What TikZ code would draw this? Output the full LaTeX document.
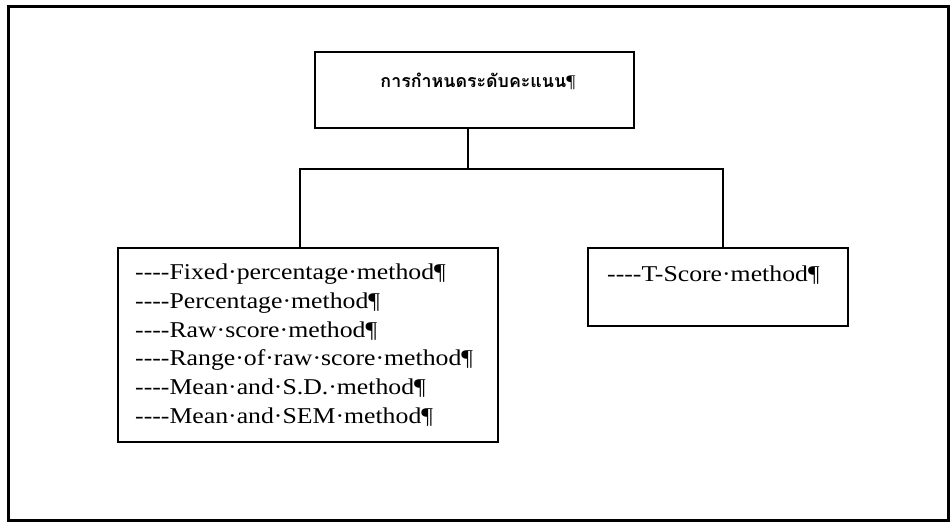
\documentclass[tikz,border=0pt]{standalone}
\usepackage{fontspec}
\setmainfont{Liberation Serif}[FakeStretch=1.14]
\newfontfamily\thaifont[Script=Thai]{Loma}
\newcommand{\fourdash}{-\kern0pt-\kern0pt-\kern0pt-}
\begin{document}
\begin{tikzpicture}[x=1pt,y=-1pt,
  box/.style={draw, line width=2pt, inner sep=0pt},
  conn/.style={line width=2pt},
  item/.style={anchor=base west, inner sep=0pt, font=\fontsize{22.6}{26}\selectfont},
  thaitext/.style={inner sep=0pt, font=\thaifont\bfseries\fontsize{17.8}{24}\selectfont}]
\useasboundingbox (0,0) rectangle (952,523);
\draw[line width=3pt] (8,6) rectangle (948,520);
% boxes
\node[box, minimum width=319pt, minimum height=76pt] (top) at (474.5,90) {};
\node[box, minimum width=380pt, minimum height=194pt] (left) at (308,345) {};
\node[box, minimum width=260pt, minimum height=78pt] (right) at (718,287) {};
% texts
\node[thaitext] (toptext) at (478,81) {การกำหนดระดับคะแนน{\rmfamily\mdseries ¶}};
\node[item] (l1) at (135,279) {\fourdash Fixed·percentage·method¶};
\node[item] (l2) at (135,308) {\fourdash Percentage·method¶};
\node[item] (l3) at (135,337) {\fourdash Raw·score·method¶};
\node[item] (l4) at (135,365) {\fourdash Range·of·raw·score·method¶};
\node[item] (l5) at (135,394) {\fourdash Mean·and·S.D.·method¶};
\node[item] (l6) at (135,423) {\fourdash Mean·and·SEM·method¶};
\node[item] (r1) at (607,281) {\fourdash T-Score·method¶};
% connectors
\coordinate (j) at (468,169);
\coordinate (lj) at (300,169);
\coordinate (rj) at (723,169);
\draw[conn] (top.south -| j) -- (j);
\draw[conn] (left.north -| lj) -- (lj) -- (rj) -- (right.north -| rj);
\end{tikzpicture}
\end{document}
